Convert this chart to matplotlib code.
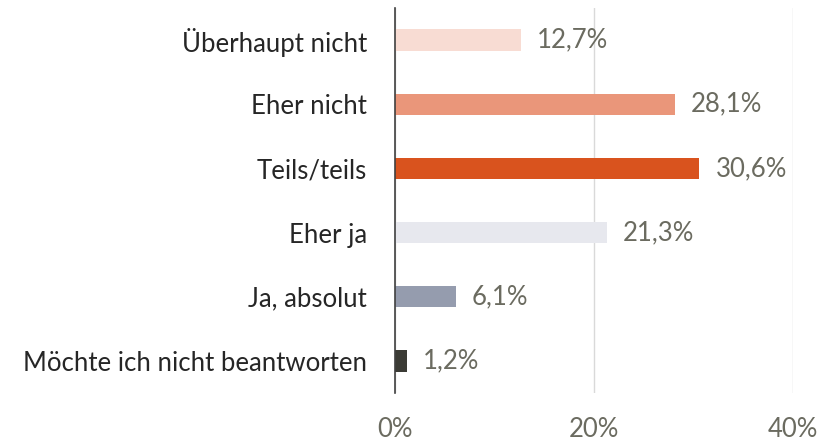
import matplotlib
matplotlib.use("Agg")
import matplotlib.pyplot as plt

categories = ["Überhaupt nicht", "Eher nicht", "Teils/teils", "Eher ja",
              "Ja, absolut", "Möchte ich nicht beantworten"]
values = [12.7, 28.1, 30.6, 21.3, 6.1, 1.2]
value_labels = ["12,7%", "28,1%", "30,6%", "21,3%", "6,1%", "1,2%"]
colors = ["#F8DCD3", "#EA967A", "#D9531E", "#E7E8EE", "#959CAE", "#3B3B35"]
xticks = [0, 20, 40]
xtick_labels = ["0%", "20%", "40%"]

plt.rcParams['font.family'] = ['Lato', 'DejaVu Sans']

fig = plt.figure(figsize=(8.36, 4.43), dpi=100)
ax = fig.add_axes([395/836, 1-393/443, (793-395)/836, (393-8)/443])

y = list(range(len(categories)))
ax.barh(y, values, height=0.33, color=colors, zorder=3)
for yi, v, lab in zip(y, values, value_labels):
    ax.annotate(lab, (v, yi), xytext=(11.5, 0), textcoords="offset points",
                va="center", ha="left", fontsize=18.5, color="#6B6B60")

ax.set_xlim(0, 40)
ax.set_ylim(len(categories)-0.5, -0.5)
ax.set_yticks(y)
ax.set_yticklabels(categories, fontsize=18.5, color="#262626")
ax.set_xticks(xticks)
ax.set_xticklabels(xtick_labels, fontsize=18.5, color="#6B6B60")
ax.tick_params(axis="y", length=0, pad=20)
ax.tick_params(axis="x", length=0, pad=17)
ax.grid(axis="x", color="#D9D9D9", linewidth=1, zorder=0)
for s in ["top", "right", "bottom"]:
    ax.spines[s].set_visible(False)
ax.spines["left"].set_color("#404040")
ax.spines["left"].set_linewidth(1.2)
ax.spines["left"].set_zorder(4)

fig.savefig("out.png", dpi=100)
